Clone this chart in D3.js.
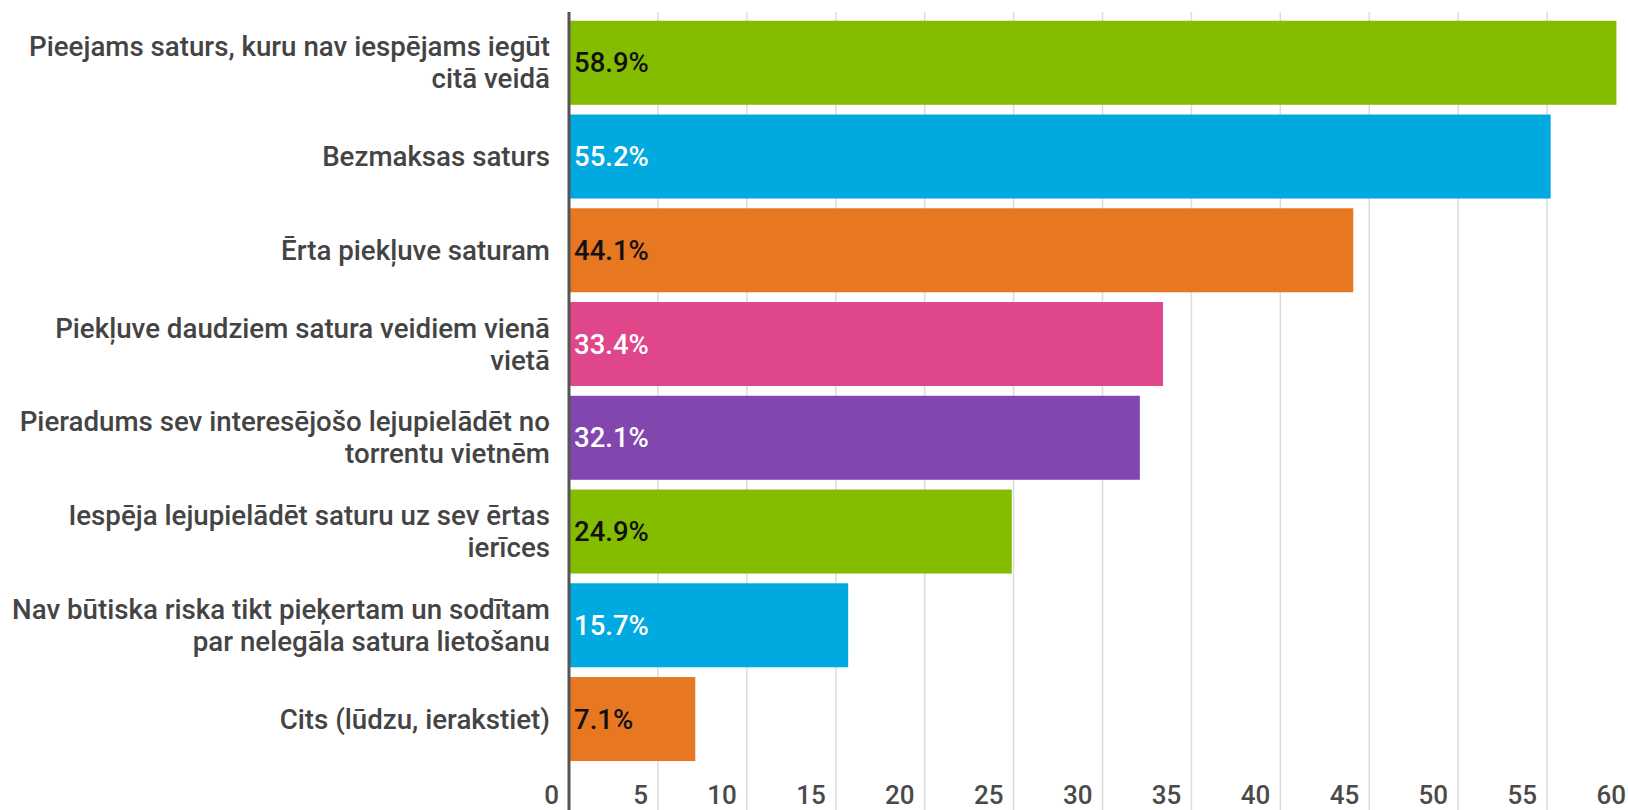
<!DOCTYPE html>
<html><head><meta charset="utf-8">
<script src="https://cdn.jsdelivr.net/npm/d3@7"></script>
<style>
html,body{margin:0;padding:0;background:#fff;overflow:hidden;}
svg{display:block;font-family:Roboto,"Noto Sans",sans-serif;font-weight:500;}
</style></head>
<body>
<svg id="c" width="1628" height="810"></svg>
<script>
const categories = [
  "Pieejams saturs, kuru nav iespējams iegūt\ncitā veidā",
  "Bezmaksas saturs",
  "Ērta piekļuve saturam",
  "Piekļuve daudziem satura veidiem vienā\nvietā",
  "Pieradums sev interesējošo lejupielādēt no\ntorrentu vietnēm",
  "Iespēja lejupielādēt saturu uz sev ērtas\nierīces",
  "Nav būtiska riska tikt pieķertam un sodītam\npar nelegāla satura lietošanu",
  "Cits (lūdzu, ierakstiet)"
];
const values = [58.9, 55.2, 44.1, 33.4, 32.1, 24.9, 15.7, 7.1];
const colors = ["#84BD00", "#00A9E0", "#E87722", "#E0468A", "#8246AF", "#84BD00", "#00A9E0", "#E87722"];
const labelColors = ["#111", "#fff", "#111", "#fff", "#fff", "#111", "#fff", "#111"];
const ticks = [0, 5, 10, 15, 20, 25, 30, 35, 40, 45, 50, 55, 60];

const svg = d3.select("#c");
const x = d3.scaleLinear().domain([0, 60]).range([569, 1636]);
const y = d3.scaleBand().domain(d3.range(categories.length)).range([15.9, 765.9]).paddingInner(0.104).paddingOuter(0.052);

// gridlines
svg.append("g").selectAll("line").data(ticks.filter(t => t > 0)).join("line")
  .attr("x1", d => x(d)).attr("x2", d => x(d))
  .attr("y1", 12).attr("y2", 810)
  .attr("stroke", "#dcdcdc").attr("stroke-width", 1.5);

// tick labels
svg.append("g").selectAll("text").data(ticks).join("text")
  .attr("x", d => x(d) - 10).attr("y", 804)
  .attr("text-anchor", "end")
  .attr("font-size", 26).attr("fill", "#4a4a4a")
  .text(d => d);

// bars
svg.append("g").selectAll("rect").data(values).join("rect")
  .attr("x", x(0)).attr("y", (d, i) => y(i))
  .attr("width", d => x(d) - x(0)).attr("height", y.bandwidth())
  .attr("fill", (d, i) => colors[i]);

// value labels
svg.append("g").selectAll("text").data(values).join("text")
  .attr("x", x(0) + 5).attr("y", (d, i) => y(i) + y.bandwidth() / 2)
  .attr("dy", "0.35em")
  .attr("font-size", 27.5).attr("fill", (d, i) => labelColors[i])
  .text(d => d.toFixed(1) + "%");

// category labels
const lh = 32;
const cat = svg.append("g").selectAll("text").data(categories).join("text")
  .attr("text-anchor", "end").attr("font-size", 27.7).attr("fill", "#444");
cat.each(function(d, i) {
  const lines = d.split("\n");
  const cy = y(i) + y.bandwidth() / 2;
  const t = d3.select(this);
  lines.forEach((ln, k) => {
    t.append("tspan").attr("x", 550)
      .attr("y", cy + (k - (lines.length - 1) / 2) * lh)
      .attr("dy", "0.35em").text(ln);
  });
});

// axis line
svg.append("line").attr("x1", x(0)).attr("x2", x(0)).attr("y1", 12).attr("y2", 810)
  .attr("stroke", "#555").attr("stroke-width", 3);
</script>
</body></html>
